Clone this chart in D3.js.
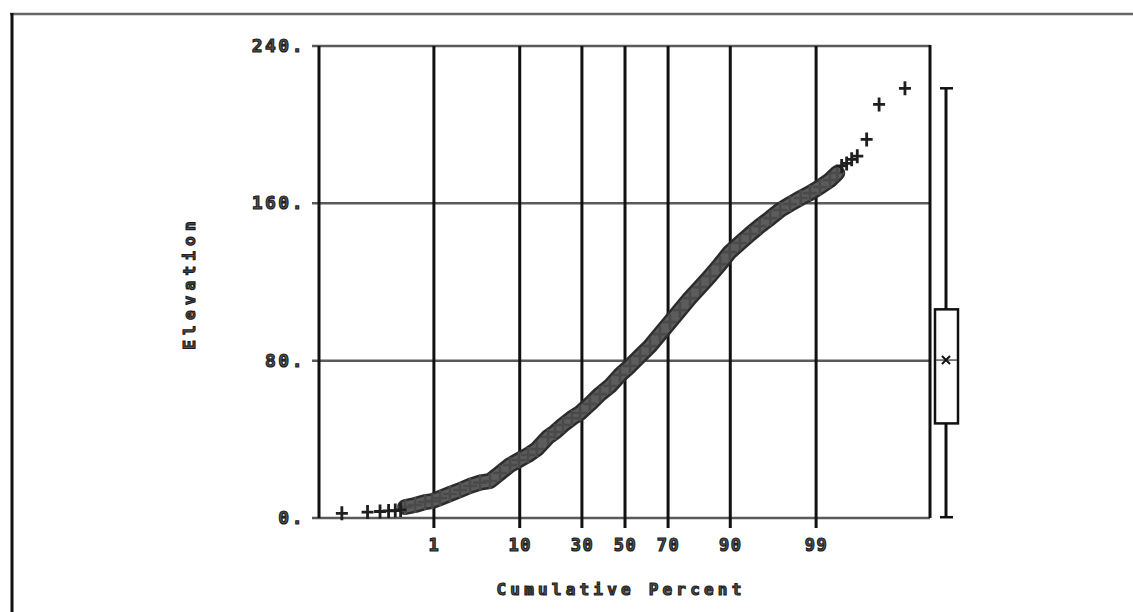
<!DOCTYPE html>
<html>
<head>
<meta charset="utf-8">
<script src="https://cdn.jsdelivr.net/npm/d3@7/dist/d3.min.js"></script>
<style>
  html, body { margin: 0; padding: 0; background: #fff; }
  svg { display: block; }
  .lbl { font-family: "DejaVu Sans Mono", "Liberation Mono", monospace; font-weight: bold;
         fill: #555; stroke: #1a1a1a; stroke-width: 1.1px; }
</style>
</head>
<body>
<svg id="chart" width="1133" height="612"></svg>
<script>
// Cumulative-percent tick positions and elevation ticks
const percentTicks = [1, 10, 30, 50, 70, 90, 99];
const elevTicks = [0, 80, 160, 240];
const elevTickLabels = ["0.", "80.", "160.", "240."];

// Lower tail: isolated observations (cumulative percent, elevation)
const lowTailPct  = [0.029, 0.088, 0.146, 0.204, 0.263, 0.321];
const lowTailElev = [2.4, 3.0, 3.3, 3.6, 3.8, 4.1];

// Dense body of the sample, sorted by cumulative percent
const bodyPct = [0.38, 0.54, 0.76, 0.96, 1.24, 1.68, 2.26, 3.0, 3.93, 5.08, 6.49, 8.17, 9.96,
  12.0, 14.3, 17.6, 19.9, 22.7, 26.1, 29.4, 33.7, 38.3, 43.0, 47.8, 52.7, 57.5, 62.2, 66.7,
  71.0, 75.0, 78.7, 82.1, 85.1, 87.8, 90.0, 92.0, 93.7, 95.0, 96.2, 97.1, 97.8, 98.4, 98.8,
  99.13, 99.38, 99.52];
const bodyElev = [5.6, 6.6, 8.1, 8.6, 10.2, 12.2, 14.2, 16.3, 18.0, 18.8, 22.9, 26.9, 29.5,
  32.0, 35.1, 41.2, 43.7, 47.3, 50.8, 53.4, 58.0, 63.0, 67.1, 72.7, 77.3, 82.4, 87.4, 93.5,
  99.6, 105.7, 111.8, 117.4, 123.0, 129.1, 135.2, 139.8, 144.4, 148.4, 152.5, 156.6, 159.6,
  162.7, 165.2, 168.3, 171.8, 175.4];

// Upper tail: isolated observations
const highTailPct  = [99.59, 99.658, 99.716, 99.77, 99.84, 99.903, 99.968];
const highTailElev = [179.0, 180.3, 182.4, 184.0, 192.5, 210.3, 218.5];

// Box plot summary: min, Q1, median, Q3, max, and mean
const boxSummary = [0.4, 48.1, 80.3, 106.1, 218.5];
const boxMean = 80.3;

// Inverse standard normal CDF (Acklam's rational approximation)
function probit(p) {
  const a = [-3.969683028665376e+01, 2.209460984245205e+02, -2.759285104469687e+02,
             1.383577518672690e+02, -3.066479806614716e+01, 2.506628277459239e+00];
  const b = [-5.447609879822406e+01, 1.615858368580409e+02, -1.556989798598866e+02,
             6.680131188771972e+01, -1.328068155288572e+01];
  const c = [-7.784894002430293e-03, -3.223964580411365e-01, -2.400758277161838e+00,
             -2.549668348750350e+00, 4.374664141464968e+00, 2.938163982698783e+00];
  const d = [7.784695709041462e-03, 3.224671290700398e-01, 2.445134137142996e+00,
             3.754408661907416e+00];
  const pl = 0.02425, ph = 1 - pl;
  let q, r;
  if (p < pl) {
    q = Math.sqrt(-2 * Math.log(p));
    return (((((c[0]*q+c[1])*q+c[2])*q+c[3])*q+c[4])*q+c[5]) / ((((d[0]*q+d[1])*q+d[2])*q+d[3])*q+1);
  }
  if (p <= ph) {
    q = p - 0.5; r = q * q;
    return (((((a[0]*r+a[1])*r+a[2])*r+a[3])*r+a[4])*r+a[5])*q / (((((b[0]*r+b[1])*r+b[2])*r+b[3])*r+b[4])*r+1);
  }
  q = Math.sqrt(-2 * Math.log(1 - p));
  return -(((((c[0]*q+c[1])*q+c[2])*q+c[3])*q+c[4])*q+c[5]) / ((((d[0]*q+d[1])*q+d[2])*q+d[3])*q+1);
}

const svg = d3.select("#chart");
const plot = { left: 319, right: 930, top: 46, bottom: 518 };

// Normal-probability x scale: percent -> z -> pixels
const zScale = d3.scaleLinear().domain([probit(0.0001), probit(0.9999)]).range([plot.left, plot.right]);
const x = pct => zScale(probit(pct / 100));
const y = d3.scaleLinear().domain([0, 240]).range([plot.bottom, plot.top]);

// Outer frame
svg.append("line").attr("x1", 10).attr("x2", 1133).attr("y1", 14).attr("y2", 14)
  .attr("stroke", "#666").attr("stroke-width", 2.5);
svg.append("line").attr("x1", 12).attr("x2", 12).attr("y1", 13).attr("y2", 612)
  .attr("stroke", "#111").attr("stroke-width", 3);

// Horizontal grid lines (extend slightly left of the plot)
const hGrid = svg.append("g");
hGrid.selectAll("line").data(elevTicks).join("line")
  .attr("x1", plot.left - 7).attr("x2", plot.right)
  .attr("y1", d => y(d)).attr("y2", d => y(d))
  .attr("stroke", "#5a5a5a").attr("stroke-width", 2.5);

// Vertical percent grid lines via a bottom axis with full-height ticks
const xAxis = d3.axisBottom(zScale)
  .tickValues(percentTicks.map(p => probit(p / 100)))
  .tickSize(-(plot.bottom - plot.top) - 10)
  .tickFormat("");
const gx = svg.append("g").attr("transform", `translate(0,${plot.bottom + 10})`).call(xAxis);
gx.select(".domain").remove();
gx.selectAll(".tick line").attr("stroke", "#111").attr("stroke-width", 3);

// Plot frame: left and right borders
svg.append("line").attr("x1", plot.left).attr("x2", plot.left).attr("y1", plot.top).attr("y2", plot.bottom)
  .attr("stroke", "#111").attr("stroke-width", 3);
svg.append("line").attr("x1", plot.right).attr("x2", plot.right).attr("y1", plot.top - 1).attr("y2", plot.bottom)
  .attr("stroke", "#111").attr("stroke-width", 3);

// Percent tick labels
svg.append("g").selectAll("text").data(percentTicks).join("text")
  .attr("class", "lbl")
  .attr("x", d => x(d) + 1).attr("y", 551)
  .attr("text-anchor", "middle")
  .attr("font-size", 17).attr("letter-spacing", 1.5)
  .text(d => d);

// Elevation tick labels
svg.append("g").selectAll("text").data(elevTicks).join("text")
  .attr("class", "lbl")
  .attr("x", 305).attr("y", d => y(d) + 6)
  .attr("text-anchor", "end")
  .attr("font-size", 18).attr("letter-spacing", 2.5)
  .text((d, i) => elevTickLabels[i]);

// Axis titles
svg.append("text").attr("class", "lbl")
  .attr("x", 621).attr("y", 595)
  .attr("text-anchor", "middle")
  .attr("font-size", 16).attr("letter-spacing", 4.2)
  .text("Cumulative Percent");
svg.append("text").attr("class", "lbl")
  .attr("transform", "translate(195,283) rotate(-90)")
  .attr("text-anchor", "middle")
  .attr("font-size", 16).attr("letter-spacing", 5.2)
  .text("Elevation");

// Dense body of observations: overlapping markers form a solid band
const bodyPts = bodyPct.map((p, i) => [x(p), y(bodyElev[i])]);
const line = d3.line();
svg.append("path").attr("d", line(bodyPts))
  .attr("fill", "none").attr("stroke", "#2c2c2c").attr("stroke-width", 16)
  .attr("stroke-linejoin", "round").attr("stroke-linecap", "round");
svg.append("path").attr("d", line(bodyPts))
  .attr("fill", "none").attr("stroke", "#5c5c5c").attr("stroke-width", 11)
  .attr("stroke-linejoin", "round").attr("stroke-linecap", "round");
svg.append("g").selectAll("path").data(bodyPct).join("path")
  .attr("d", "M-7,0H7M0,-8V8")
  .attr("transform", (d, i) => `translate(${x(d)},${y(bodyElev[i])})`)
  .attr("fill", "none").attr("stroke", "#4a4a4a").attr("stroke-width", 2.6);

// Plus markers for the separated tail observations
const plus = "M-6,0H6M0,-7V7";
const tailPct = lowTailPct.concat(highTailPct);
const tailElev = lowTailElev.concat(highTailElev);
svg.append("g").selectAll("path").data(tailPct).join("path")
  .attr("d", plus)
  .attr("transform", (d, i) => `translate(${x(d)},${y(tailElev[i])})`)
  .attr("fill", "none").attr("stroke", "#1e1e1e").attr("stroke-width", 2.8);

// Box plot beside the chart
const bx = 946, bw = 23;
const box = svg.append("g").attr("stroke", "#111");
box.append("line").attr("x1", bx).attr("x2", bx).attr("y1", y(boxSummary[4])).attr("y2", y(boxSummary[3]))
  .attr("stroke-width", 3);
box.append("line").attr("x1", bx).attr("x2", bx).attr("y1", y(boxSummary[1])).attr("y2", y(boxSummary[0]))
  .attr("stroke-width", 3);
box.append("line").attr("x1", bx - 6).attr("x2", bx + 7).attr("y1", y(boxSummary[4])).attr("y2", y(boxSummary[4]))
  .attr("stroke-width", 2.5);
box.append("line").attr("x1", bx - 6).attr("x2", bx + 7).attr("y1", y(boxSummary[0])).attr("y2", y(boxSummary[0]))
  .attr("stroke-width", 2.5);
box.append("rect").attr("x", bx - 11).attr("width", bw)
  .attr("y", y(boxSummary[3])).attr("height", y(boxSummary[1]) - y(boxSummary[3]))
  .attr("fill", "#fff").attr("stroke-width", 2.5);
box.append("line").attr("x1", bx - 10).attr("x2", bx + 11).attr("y1", y(boxSummary[2])).attr("y2", y(boxSummary[2]))
  .attr("stroke", "#555").attr("stroke-width", 1.5);
box.append("path")
  .attr("d", "M-4,-4L4,4M-4,4L4,-4")
  .attr("transform", `translate(${bx},${y(boxMean)})`)
  .attr("fill", "none").attr("stroke-width", 2);
</script>
</body>
</html>
